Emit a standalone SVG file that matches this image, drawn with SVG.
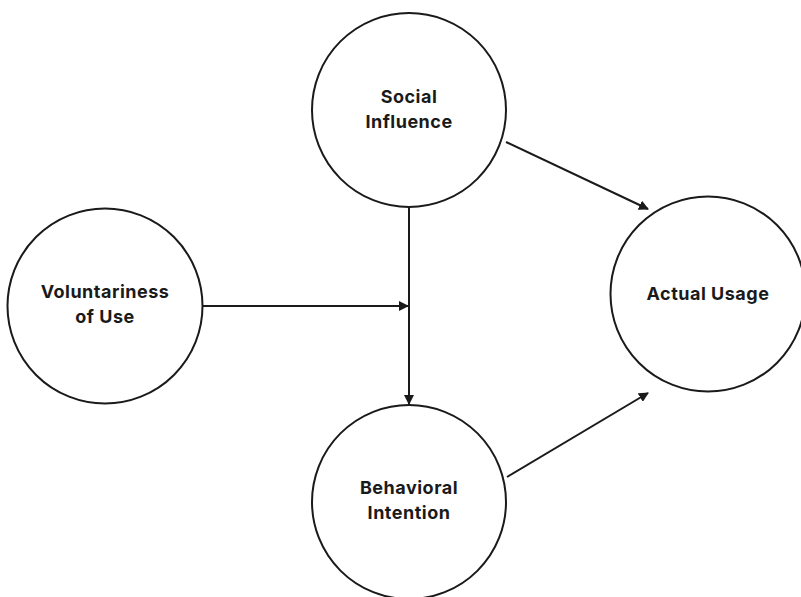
<svg xmlns="http://www.w3.org/2000/svg" width="801" height="597" viewBox="0 0 801 597">
<style>
.node{fill:#fff;stroke:#1a1a1a;stroke-width:2}
.lbl{font-family:Inter,"Open Sans","Liberation Sans",sans-serif;font-weight:700;font-size:18px;letter-spacing:0.5px;fill:#1a1a1a;text-anchor:middle}
.edge{stroke:#1a1a1a;stroke-width:2;fill:none;marker-end:url(#ah)}
</style>
<defs>
<marker id="ah" viewBox="0 0 10 10" refX="9" refY="5" markerWidth="5" markerHeight="5" orient="auto" markerUnits="strokeWidth">
<path d="M0,0 L10,5 L0,10 z" fill="#1a1a1a"/>
</marker>
</defs>
<rect width="801" height="597" fill="#fff"/>
<g id="connectors">
<line class="edge" x1="409" y1="207" x2="409" y2="404"/>
<line class="edge" x1="203" y1="306" x2="408" y2="306"/>
<line class="edge" x1="506" y1="142" x2="648" y2="209"/>
<line class="edge" x1="507" y1="477" x2="648" y2="393"/>
</g>
<g id="social-influence">
<circle class="node" cx="409" cy="110" r="97"/>
<text class="lbl" x="409" y="103">Social</text>
<text class="lbl" x="409" y="128">Influence</text>
</g>
<g id="voluntariness">
<circle class="node" cx="105" cy="306" r="97.5"/>
<text class="lbl" x="105" y="298">Voluntariness</text>
<text class="lbl" x="105" y="323">of Use</text>
</g>
<g id="actual-usage">
<circle class="node" cx="708" cy="294" r="97.5"/>
<text class="lbl" x="708" y="300">Actual Usage</text>
</g>
<g id="behavioral-intention">
<circle class="node" cx="409" cy="502" r="97"/>
<text class="lbl" x="409" y="494">Behavioral</text>
<text class="lbl" x="409" y="519">Intention</text>
</g>
</svg>
